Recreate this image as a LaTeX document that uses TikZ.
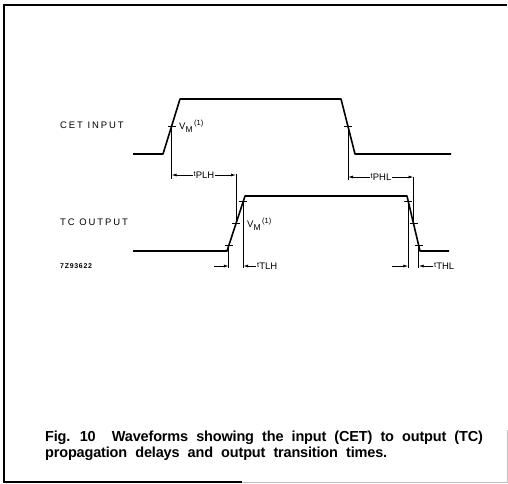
\documentclass[tikz,border=0pt]{standalone}
\usepackage{fontspec}
\setmainfont{Liberation Sans}
\newfontfamily\capfont[WordSpace=2.1,LetterSpace=-1.2]{Liberation Sans}
\newfontfamily\lblfont[LetterSpace=20]{Liberation Sans}
\newfontfamily\codefont[LetterSpace=10]{Liberation Sans}
\usetikzlibrary{arrows.meta,calc}
\newcommand{\tsub}[1]{{\fontsize{7.5}{8}\selectfont t}\raisebox{-2.5pt}{\fontsize{9.5}{10}\selectfont #1}}
\newcommand{\vmark}{V\raisebox{-3pt}{\fontsize{8.5}{9}\selectfont M}\,\raisebox{4pt}{\fontsize{7.5}{8}\selectfont (1)}}

\begin{document}
\begin{tikzpicture}[
  x=1pt, y=-1pt,
  >={Latex[length=5pt,width=3pt]},
  wave/.style={line width=1.6pt, line join=round},
  ext/.style={line width=0.8pt},
  vmtick/.style={line width=0.8pt},
  sig/.style={font=\lblfont\fontsize{9.5}{10}\selectfont, inner sep=0pt, anchor=west},
  tlabel/.style={inner sep=1pt},
  vmlabel/.style={font=\fontsize{9.5}{10}\selectfont, inner sep=0pt, anchor=west}
]
  \useasboundingbox (0,0) rectangle (508,483);
  % frame
  \draw[line width=1.2pt] (507,5) -- (4,5) -- (4,482) -- (242,482);
  \draw[line width=0.4pt, gray!50] (242,482) -- (507,482) -- (507,430);

  % CET input waveform
  \coordinate (c0) at (133,154);
  \coordinate (c1) at (163,154);
  \coordinate (c2) at (180,99);
  \coordinate (c3) at (341,99);
  \coordinate (c4) at (355,154);
  \coordinate (c5) at (451,154);
  \draw[wave] (c0) -- (c1) -- (c2) -- (c3) -- (c4) -- (c5);
  \coordinate (cvmr) at ($(c1)!0.5!(c2)$);
  \coordinate (cvmf) at ($(c3)!0.5!(c4)$);

  % TC output waveform
  \coordinate (t0) at (133,251);
  \coordinate (t1) at (227,251);
  \coordinate (t2) at (245,196);
  \coordinate (t3) at (407,196);
  \coordinate (t4) at (420,251);
  \coordinate (t5) at (449,251);
  \draw[wave] (t0) -- (t1) -- (t2) -- (t3) -- (t4) -- (t5);
  \coordinate (tr10) at ($(t1)!0.1!(t2)$);
  \coordinate (tr50) at ($(t1)!0.5!(t2)$);
  \coordinate (tr90) at ($(t1)!0.9!(t2)$);
  \coordinate (tf90) at ($(t3)!0.1!(t4)$);
  \coordinate (tf50) at ($(t3)!0.5!(t4)$);
  \coordinate (tf10) at ($(t3)!0.9!(t4)$);

  % V_M ticks
  \foreach \p in {cvmr,cvmf,tr10,tr50,tr90,tf90,tf50,tf10}
    \draw[vmtick] ([xshift=-4pt]\p) -- ([xshift=4pt]\p);

  % extension lines
  \draw[ext] (cvmr) -- ++(0,52);
  \draw[ext] (tr50) -- ++(0,-50);
  \draw[ext] (cvmf) -- ++(0,53);
  \draw[ext] (tf50) -- ++(0,-47);
  \draw[ext] (tr10) -- (tr10 |- 0,268);
  \draw[ext] (tr90) -- (tr90 |- 0,268);
  \draw[ext] (tf90) -- (tf90 |- 0,268);
  \draw[ext] (tf10) -- (tf10 |- 0,268);

  % propagation delays
  \node[tlabel] (tplh) at (204,175) {\tsub{PLH}};
  \draw[ext,->] (tplh.west) -- (tplh.west -| cvmr);
  \draw[ext,->] (tplh.east) -- (tplh.east -| tr50);
  \node[tlabel] (tphl) at (381,177) {\tsub{PHL}};
  \draw[ext,->] (tphl.west) -- (tphl.west -| cvmf);
  \draw[ext,->] (tphl.east) -- (tphl.east -| tf50);

  % transition times
  \coordinate (tlhin) at (214,266);
  \node[tlabel, anchor=west] (ttlh) at (256,266) {\tsub{TLH}};
  \draw[ext,->] (tlhin) -- (tlhin -| tr10);
  \draw[ext,->] (ttlh.west) -- (ttlh.west -| tr90);
  \coordinate (thlin) at (392,266);
  \node[tlabel, anchor=west] (tthl) at (433,266) {\tsub{THL}};
  \draw[ext,->] (thlin) -- (thlin -| tf90);
  \draw[ext,->] (tthl.west) -- (tthl.west -| tf10);

  % V_M labels
  \node[vmlabel] (vmc) at (179,126) {\vmark};
  \node[vmlabel] (vmt) at (247,224) {\vmark};

  % signal names
  \node[sig] (cet) at (60,125) {CET INPUT};
  \node[sig] (tc) at (60,222) {TC OUTPUT};
  \node[sig, font=\codefont\fontsize{7}{8}\selectfont\bfseries] (code) at (60,266) {7Z93622};

  % caption
  \node[font=\capfont\fontsize{14.5}{16}\selectfont\bfseries, align=left,
        anchor=north west, inner sep=0pt] (cap) at (45,431)
    {Fig. 10\ \ Waveforms showing the input (CET) to output (TC)\\
     propagation delays and output transition times.};
\end{tikzpicture}
\end{document}
